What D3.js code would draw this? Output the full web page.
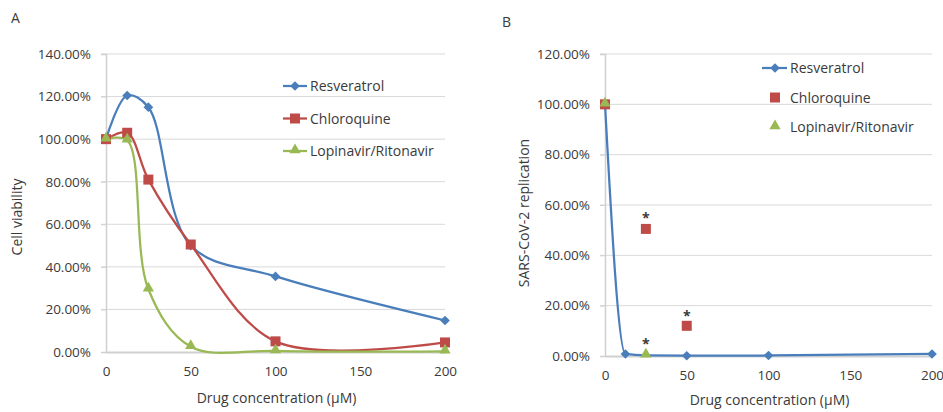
<!DOCTYPE html>
<html>
<head>
<meta charset="utf-8">
<script src="https://cdnjs.cloudflare.com/ajax/libs/d3/7.8.5/d3.min.js"></script>
<style>
  body { margin: 0; background: #fff; }
  text { font-family: "Open Sans", sans-serif; fill: #3a3a3a; }
</style>
</head>
<body>
<div id="chart"></div>
<script>
// data
var doses = [0, 12.5, 25, 50, 100, 200];
var xTicks = [0, 50, 100, 150, 200];

// panel A: cell viability (%)
var resvA = [100, 120.5, 115, 50, 35.5, 14.8];
var chloroA = [100, 103, 81, 50.5, 5, 4.5];
var lopinA = [100, 99.5, 29.5, 2.5, 0.5, 0.3];
var yTicksA = [0, 20, 40, 60, 80, 100, 120, 140];

// panel B: SARS-CoV-2 replication (%)
var resvB = [100, 0.8, 0.2, 0.1, 0.2, 0.8];
var chloroBx = [0, 25, 50];
var chloroB = [100, 50.5, 12];
var lopinBx = [0, 25];
var lopinB = [100, 0.3];
var starsBx = [25, 50, 25];
var starsBy = [55.5, 16.5, 5.5];
var yTicksB = [0, 20, 40, 60, 80, 100, 120];

var names = ["Resveratrol", "Chloroquine", "Lopinavir/Ritonavir"];
var colors = ["#4a7ebb", "#be4b48", "#98b954"];

var svg = d3.select("#chart").append("svg")
  .attr("width", 943)
  .attr("height", 412);

var pct = function(d) { return d.toFixed(2) + "%"; };

function marker(g, kind, x, y, color) {
  if (kind == 0) {
    g.append("path").attr("d", d3.symbol(d3.symbolDiamond2, 60)())
      .attr("transform", "translate(" + x + "," + y + ")").attr("fill", color);
  } else if (kind == 1) {
    g.append("rect").attr("x", x - 5).attr("y", y - 5).attr("width", 10).attr("height", 10)
      .attr("fill", color);
  } else {
    g.append("path").attr("d", d3.symbol(d3.symbolTriangle, 55)())
      .attr("transform", "translate(" + x + "," + (y - 1) + ")").attr("fill", color);
  }
}

function panel(opt) {
  var g = svg.append("g");
  var x = d3.scaleLinear().domain([0, 200]).range([opt.left, opt.right]);
  var y = d3.scaleLinear().domain([0, opt.ymax]).range([opt.bottom, opt.top]);

  // gridlines
  g.append("g").selectAll("line").data(opt.yTicks.slice(1)).enter().append("line")
    .attr("x1", opt.left - 5).attr("x2", opt.right)
    .attr("y1", function(d) { return y(d); }).attr("y2", function(d) { return y(d); })
    .attr("stroke", "#d9d9d9").attr("stroke-width", 1);

  // axes
  var ya = g.append("g").attr("transform", "translate(" + opt.left + ",0)")
    .call(d3.axisLeft(y).tickValues(opt.yTicks).tickFormat(pct).tickSize(5).tickPadding(10));
  var xa = g.append("g").attr("transform", "translate(0," + opt.bottom + ")")
    .call(d3.axisBottom(x).tickValues(xTicks).tickSize(0).tickPadding(14));
  [ya, xa].forEach(function(a) {
    a.select(".domain").attr("stroke", "#d0d0d0").attr("stroke-width", 1.5);
    a.selectAll(".tick line").attr("stroke", "#d0d0d0");
    a.selectAll(".tick text").style("font-size", "13.5px").attr("fill", "#3a3a3a");
  });
  xa.select(".domain").attr("stroke-width", 2);

  // axis titles
  g.append("text")
    .attr("transform", "translate(" + opt.ytx + "," + opt.yty + ") rotate(-90)")
    .attr("text-anchor", "middle").style("font-size", "14px").text(opt.ytitle);
  g.append("text")
    .attr("x", (opt.left + opt.right) / 2 + 1).attr("y", opt.xty)
    .attr("text-anchor", "middle").style("font-size", "14px").text("Drug concentration (\u00b5M)");
  g.append("text").attr("x", opt.labx).attr("y", opt.laby)
    .style("font-size", "14px").text(opt.label);

  return { g: g, x: x, y: y };
}

// ---------- panel A ----------
var A = panel({ left: 106, right: 445, top: 54, bottom: 352, ymax: 140, yTicks: yTicksA,
  ytitle: "Cell viability", ytx: 22, yty: 217, xty: 403, label: "A", labx: 11, laby: 23 });

var lineA = d3.line()
  .x(function(d, i) { return A.x(doses[i]); })
  .y(function(d) { return A.y(d); })
  .curve(d3.curveCatmullRom.alpha(0.5));

[resvA, chloroA, lopinA].forEach(function(s, k) {
  A.g.append("path").datum(s)
    .attr("d", lineA).attr("fill", "none")
    .attr("stroke", colors[k]).attr("stroke-width", 2.25);
});
[resvA, chloroA, lopinA].forEach(function(s, k) {
  s.forEach(function(v, i) { marker(A.g, k, A.x(doses[i]), A.y(v), colors[k]); });
});

// legend A
names.forEach(function(n, k) {
  var ly = 86 + k * 32.5;
  A.g.append("line").attr("x1", 283).attr("x2", 307).attr("y1", ly).attr("y2", ly)
    .attr("stroke", colors[k]).attr("stroke-width", 2.25);
  marker(A.g, k, 295, ly, colors[k]);
  A.g.append("text").attr("x", 310).attr("y", ly + 5).style("font-size", "14px").text(n);
});

// ---------- panel B ----------
var B = panel({ left: 605, right: 932, top: 54, bottom: 356, ymax: 120, yTicks: yTicksB,
  ytitle: "SARS-CoV-2 replication", ytx: 529, yty: 213, xty: 405, label: "B", labx: 502, laby: 27 });

var lineB = d3.line()
  .x(function(d, i) { return B.x(doses[i]); })
  .y(function(d) { return B.y(d); })
  .curve(d3.curveMonotoneX);

B.g.append("path").datum(resvB)
  .attr("d", lineB).attr("fill", "none")
  .attr("stroke", colors[0]).attr("stroke-width", 2.25);
resvB.forEach(function(v, i) {
  if (doses[i] != 25) marker(B.g, 0, B.x(doses[i]), B.y(v), colors[0]);
});
chloroB.forEach(function(v, i) { marker(B.g, 1, B.x(chloroBx[i]), B.y(v), colors[1]); });
lopinB.forEach(function(v, i) { marker(B.g, 2, B.x(lopinBx[i]), B.y(v), colors[2]); });

starsBy.forEach(function(v, i) {
  B.g.append("text").attr("x", B.x(starsBx[i])).attr("y", B.y(v) + 7)
    .attr("text-anchor", "middle").style("font-size", "14px").style("font-weight", "bold")
    .attr("fill", "#222").text("*");
});

// legend B
names.forEach(function(n, k) {
  var ly = 68 + k * 29.5;
  if (k == 0) {
    B.g.append("line").attr("x1", 762).attr("x2", 787).attr("y1", ly).attr("y2", ly)
      .attr("stroke", colors[k]).attr("stroke-width", 2.25);
  }
  marker(B.g, k, 775, ly, colors[k]);
  B.g.append("text").attr("x", 790).attr("y", ly + 5).style("font-size", "14px").text(n);
});
</script>
</body>
</html>
